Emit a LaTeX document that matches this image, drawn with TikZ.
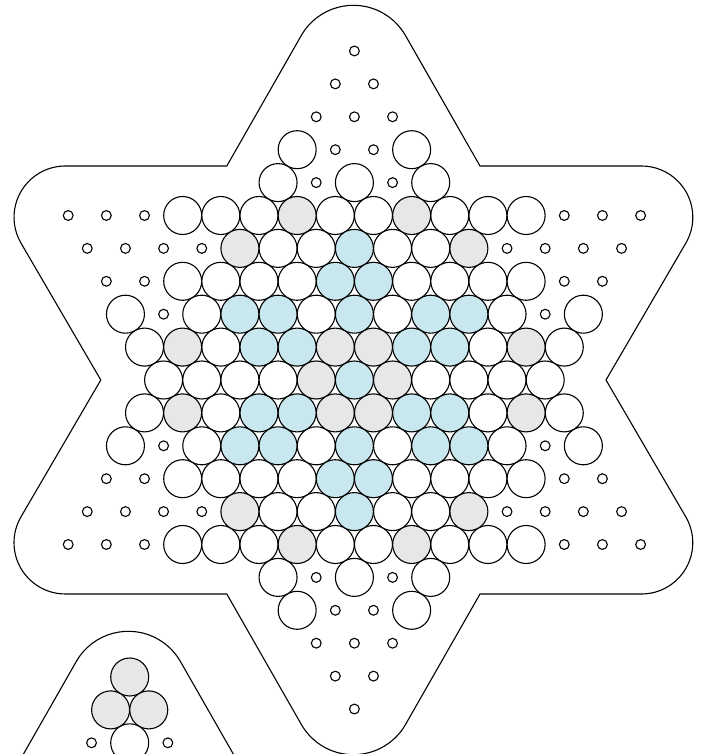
\documentclass[tikz,border=0pt]{standalone}
\usepackage{xcolor}
\usepackage{tikz}
\definecolor{cupgrey}{HTML}{E6E7E8}
\definecolor{cupblue}{HTML}{C8E7EF}
\tikzset{bline/.style={line width=1.1pt,black},
  hole/.style={bline,fill=white},
  cupw/.style={bline,fill=white},
  cupg/.style={bline,fill=cupgrey},
  cupb/.style={bline,fill=cupblue}}
\newcommand{\cupat}[3]{\draw[#1] (#2,#3) circle (19pt);}
\newcommand{\holeat}[2]{\draw[hole] (#1,#2) circle (4.9pt);}
\newcommand{\cuprow}[3]{\foreach \c in {#3} {\cupat{#1}{\c}{#2} \cupat{#1}{\c}{-#2}}}
\newcommand{\holerow}[2]{\foreach \c in {#2} {\holeat{\c}{#1} \holeat{\c}{-#1}}}
\newcommand{\boardline}{\draw[bline] (-52,344.7) arc[start angle=150,end angle=30,radius=60] -- (126.6,214) -- (288.1,214) arc[start angle=90,end angle=-30,radius=51.3] -- (252.6,0) -- (332.5,-137.05) arc[start angle=30,end angle=-90,radius=51.3] -- (126.6,-214) -- (52,-344.7) arc[start angle=-30,end angle=-150,radius=60] -- (-126.6,-214) -- (-288.1,-214) arc[start angle=270,end angle=150,radius=51.3] -- (-252.6,0) -- (-332.5,137.05) arc[start angle=210,end angle=90,radius=51.3] -- (-126.6,214) -- cycle;}

\begin{document}
\begin{tikzpicture}[x=1pt,y=1pt]
\fill[white] (-353.4,-374) rectangle (350.6,380);
\clip (-353.4,-374) rectangle (350.6,380);
\boardline
\begin{scope}[xshift=1pt,x=19.08pt,y=32.9pt]
% holes
\holerow{10}{0} \holerow{9}{-1,1} \holerow{8}{-2,0,2} \holerow{7}{-1,1} \holerow{6}{-2,2}
\holerow{5}{-15,-13,-11,11,13,15} \holerow{4}{-14,-12,-10,-8,8,10,12,14}
\holerow{3}{-13,-11,11,13} \holerow{2}{-10,10}
% cups
\cuprow{cupw}{7}{-3,3} \cuprow{cupw}{6}{-4,0,4} \cuprow{cupw}{5}{-9,-7,-5,-1,1,5,7,9}
\cuprow{cupw}{4}{-4,-2,2,4} \cuprow{cupw}{3}{-9,-7,-5,-3,3,5,7,9}
\cuprow{cupw}{2}{-12,-8,-2,2,8,12} \cuprow{cupw}{1}{-11,-7,7,11}
\foreach \c in {-10,-8,-6,-4,4,6,8,10} {\cupat{cupw}{\c}{0}}
\cuprow{cupg}{5}{-3,3} \cuprow{cupg}{4}{-6,6} \cuprow{cupg}{1}{-9,-1,1,9}
\foreach \c in {-2,2} {\cupat{cupg}{\c}{0}}
\cuprow{cupb}{4}{0} \cuprow{cupb}{3}{-1,1} \cuprow{cupb}{2}{-6,-4,0,4,6} \cuprow{cupb}{1}{-5,-3,3,5}
\cupat{cupb}{0}{0}
\end{scope}
% second board, cut off by the page
\begin{scope}[xshift=-225pt,yshift=-626pt]
\boardline
\begin{scope}[xshift=1.3pt,x=19.08pt,y=32.9pt]
\cupat{cupg}{0}{10} \cupat{cupg}{-1}{9} \cupat{cupg}{1}{9}
\cupat{cupw}{0}{8} \holeat{-2}{8} \holeat{2}{8}
\end{scope}
\end{scope}
\end{tikzpicture}
\end{document}
